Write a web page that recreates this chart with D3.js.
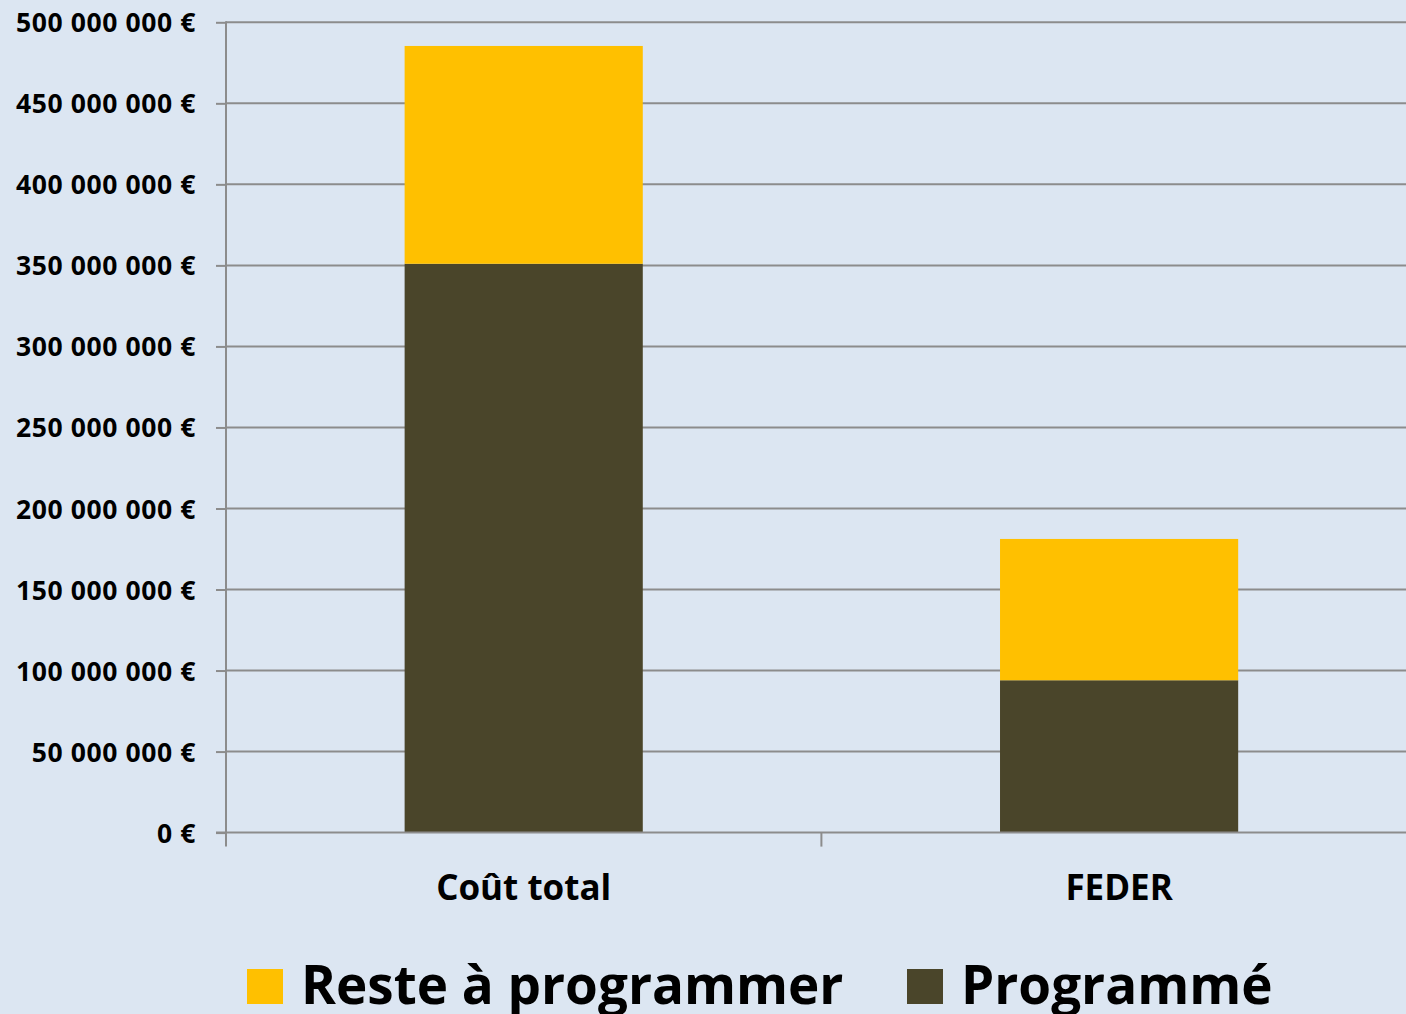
<!DOCTYPE html>
<html>
<head>
<meta charset="utf-8">
<script src="https://cdn.jsdelivr.net/npm/d3@7"></script>
<style>
    html, body { margin: 0; padding: 0; background: #dce6f2; overflow: hidden; }
    svg { display: block; font-family: "Open Sans", "DejaVu Sans", sans-serif; font-weight: bold; }
</style>
</head>
<body>
<svg id="chart" width="1406" height="1014"></svg>
<script>
'use strict';

var categories = ["Coût total", "FEDER"],
    programme = [351000000, 94000000],
    reste = [134400000, 87200000],
    yTicks = [0, 50000000, 100000000, 150000000, 200000000, 250000000, 300000000, 350000000, 400000000, 450000000, 500000000],
    seriesNames = ["Reste à programmer", "Programmé"],
    seriesColors = ["#ffc000", "#4a452a"];

var svg = d3.select("#chart"),
    plotLeft = 226, plotTop = 22.3, plotBottom = 832.6, plotRight = 1416.8,
    gridColor = "#8c8c8c";

var y = d3.scaleLinear().domain([0, 500000000]).range([plotBottom, plotTop]);
var x = d3.scaleBand().domain(categories).range([plotLeft, plotRight])
    .paddingInner(0.6).paddingOuter(0.3);

function fmt(v) {
    return d3.format(",")(v).replace(/,/g, " ") + " €";
}

// gridlines
svg.append("g").selectAll("line").data(yTicks.slice(1)).join("line")
    .attr("x1", plotLeft).attr("x2", 1406)
    .attr("y1", function(d) { return y(d); })
    .attr("y2", function(d) { return y(d); })
    .style("stroke", gridColor).style("stroke-width", 2);

// stacked bars
var rows = categories.map(function(c, i) {
    return { cat: c, Programme: programme[i], Reste: reste[i] };
});
var stack = d3.stack().keys(["Programme", "Reste"])(rows);
var colorByKey = { Programme: seriesColors[1], Reste: seriesColors[0] };

svg.append("g").selectAll("g").data(stack).join("g")
    .style("fill", function(s) { return colorByKey[s.key]; })
    .selectAll("rect").data(function(s) { return s; }).join("rect")
    .attr("x", function(d) { return x(d.data.cat); })
    .attr("width", x.bandwidth())
    .attr("y", function(d) { return y(d[1]); })
    .attr("height", function(d) { return y(d[0]) - y(d[1]); });

// y axis
var yAxis = svg.append("g").attr("transform", "translate(" + plotLeft + ",0)")
    .call(d3.axisLeft(y).tickValues(yTicks).tickSize(10).tickPadding(20).tickFormat(fmt))
    .attr("font-family", null).attr("font-size", null);
yAxis.select(".domain").remove();
yAxis.selectAll(".tick line").style("stroke", gridColor).style("stroke-width", 2);
yAxis.selectAll("text").style("font-size", "26.5px").style("letter-spacing", "0.6px")
    .style("fill", "#000").attr("dy", "0.36em");
yAxis.append("line").attr("x1", 0).attr("x2", 0).attr("y1", plotTop - 1).attr("y2", plotBottom + 14)
    .style("stroke", gridColor).style("stroke-width", 2);

// x axis
svg.append("line").attr("x1", plotLeft - 10).attr("x2", 1406).attr("y1", plotBottom).attr("y2", plotBottom)
    .style("stroke", gridColor).style("stroke-width", 2);
svg.append("g").selectAll("line").data(categories.slice(1)).join("line")
    .attr("x1", function(d) { return x(d) - x.step() * x.paddingInner() / 2; })
    .attr("x2", function(d) { return x(d) - x.step() * x.paddingInner() / 2; })
    .attr("y1", plotBottom).attr("y2", plotBottom + 14)
    .style("stroke", gridColor).style("stroke-width", 2);

svg.append("g").selectAll("text").data(categories).join("text")
    .attr("x", function(d) { return x(d) + x.bandwidth() / 2; })
    .attr("y", 900)
    .attr("text-anchor", "middle")
    .style("font-size", "35px")
    .text(function(d) { return d; });

// legend
var legendX = [247, 907];
var legend = svg.append("g").selectAll("g").data(seriesNames).join("g")
    .attr("transform", function(d, i) { return "translate(" + legendX[i] + ",969)"; });
legend.append("rect").attr("width", 36).attr("height", 35)
    .style("fill", function(d, i) { return seriesColors[i]; });
legend.append("text").attr("x", 54).attr("y", 35)
    .style("font-size", "53px")
    .text(function(d) { return d; });
</script>
</body>
</html>
